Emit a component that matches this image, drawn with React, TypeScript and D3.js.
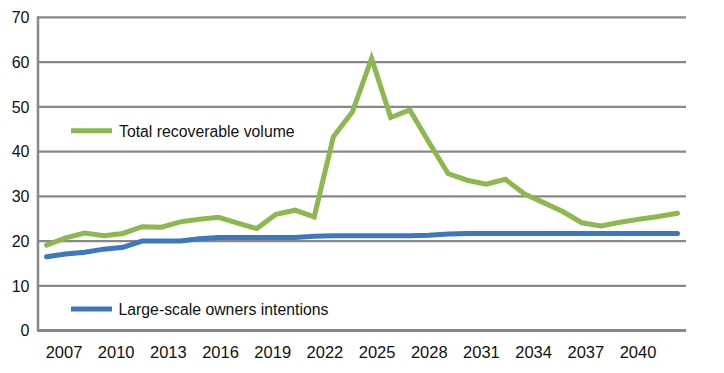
import React from "react";
import * as d3 from "d3";

const years: number[] = d3.range(2007, 2041);
const totalRecoverable: number[] = [
  19.1, 20.7, 21.8, 21.2, 21.7, 23.2, 23.1, 24.3, 24.9, 25.3,
  24.0, 22.8, 26.0, 26.9, 25.4, 43.3, 48.9, 60.8, 47.6, 49.3,
  42.1, 35.1, 33.6, 32.7, 33.8, 30.5, 28.6, 26.6, 24.1, 23.4,
  24.2, 24.9, 25.5, 26.2,
];
const ownersIntentions: number[] = [
  16.5, 17.1, 17.5, 18.2, 18.6, 20.0, 20.0, 20.0, 20.5, 20.8,
  20.8, 20.8, 20.8, 20.8, 21.1, 21.2, 21.2, 21.2, 21.2, 21.2,
  21.3, 21.6, 21.7, 21.7, 21.7, 21.7, 21.7, 21.7, 21.7, 21.7,
  21.7, 21.7, 21.7, 21.7,
];
const xTickLabels: string[] = [
  "2007", "2010", "2013", "2016", "2019", "2022",
  "2025", "2028", "2031", "2034", "2037", "2040",
];
const yTicks: number[] = [0, 10, 20, 30, 40, 50, 60, 70];
const seriesNames: string[] = ["Total recoverable volume", "Large-scale owners intentions"];

const GREEN = "#8CB84F";
const BLUE = "#3D78BF";
const GRID = "#888888";
const FONT = "'Liberation Sans', Arial, Helvetica, sans-serif";

export default function App() {
  const W = 724, H = 373;
  const plotLeft = 38, plotRight = 686;
  const x = d3.scalePoint<number>().domain(years).range([46.5, 677.5]);
  const y = d3.scaleLinear().domain([0, 70]).range([330.6, 17.3]);
  const xl = d3.scalePoint<string>().domain(xTickLabels).range([64, 638]);

  const line = d3
    .line<number>()
    .x((_, i) => x(years[i]) as number)
    .y((d) => y(d));

  return (
    <svg
      width={W}
      height={H}
      style={{ position: "absolute", left: 0, top: 0, background: "#fff" }}
      fontFamily={FONT}
    >
      {yTicks.map((t) =>
        t === 0 ? null : (
          <line key={t} x1={plotLeft} x2={plotRight} y1={y(t)} y2={y(t)} stroke={GRID} strokeWidth={2.2} />
        )
      )}
      <line x1={plotLeft} x2={plotLeft} y1={y(70) - 1} y2={y(0)} stroke={GRID} strokeWidth={2.5} />
      <line x1={plotLeft - 1} x2={plotRight} y1={y(0)} y2={y(0)} stroke={GRID} strokeWidth={3} />
      {yTicks.map((t) => (
        <text key={t} x={29.5} y={y(t)} dy="0.36em" textAnchor="end" fontSize={16} fill="#111">
          {t}
        </text>
      ))}
      {xTickLabels.map((l) => (
        <text key={l} x={xl(l)} y={357.5} textAnchor="middle" fontSize={16.5} fill="#111">
          {l}
        </text>
      ))}
      <path d={line(totalRecoverable) || ""} fill="none" stroke={GREEN} strokeWidth={5} strokeLinejoin="miter" strokeLinecap="round" />
      <path d={line(ownersIntentions) || ""} fill="none" stroke={BLUE} strokeWidth={5} strokeLinejoin="miter" strokeLinecap="round" />
      <line x1={71} x2={112} y1={130.7} y2={130.7} stroke={GREEN} strokeWidth={5} />
      <text x={119} y={136.8} fontSize={15.8} fill="#111">{seriesNames[0]}</text>
      <line x1={71} x2={112} y1={309} y2={309} stroke={BLUE} strokeWidth={5} />
      <text x={118.5} y={314.8} fontSize={15.8} fill="#111">{seriesNames[1]}</text>
    </svg>
  );
}
